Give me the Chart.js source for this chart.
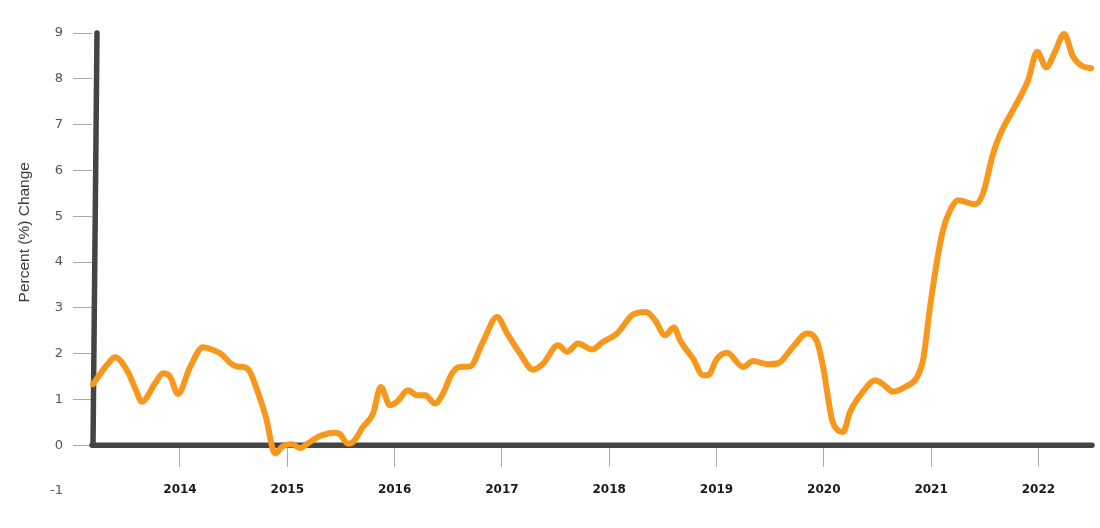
<!DOCTYPE html>
<html><head><meta charset="utf-8">
<script src="https://cdn.jsdelivr.net/npm/chart.js@4"></script>
<style>html,body{margin:0;padding:0;background:#fff}#wrap{width:1100px;height:528px}</style>
</head><body><div id="wrap"><canvas id="c" width="1100" height="528"></canvas></div>
<script>
// Decimal-year positions of the readings and the percent change at each
const dates = [2013.189,2013.254,2013.329,2013.394,2013.515,2013.581,2013.646,2013.767,2013.842,2013.907,
  2013.981,2014.093,2014.214,2014.308,2014.391,2014.466,2014.531,2014.606,2014.652,2014.727,
  2014.802,2014.885,2014.960,2015.044,2015.118,2015.212,2015.305,2015.445,2015.491,2015.566,
  2015.612,2015.706,2015.799,2015.871,2015.957,2016.023,2016.125,2016.209,2016.284,2016.377,
  2016.451,2016.535,2016.610,2016.703,2016.824,2016.955,2017.048,2017.169,2017.290,2017.383,
  2017.523,2017.607,2017.710,2017.840,2017.943,2018.073,2018.148,2018.213,2018.343,2018.427,
  2018.520,2018.604,2018.660,2018.781,2018.875,2018.921,2019.005,2019.098,2019.247,2019.341,
  2019.471,2019.574,2019.714,2019.844,2019.937,2019.993,2020.077,2020.124,2020.180,2020.245,
  2020.366,2020.478,2020.552,2020.646,2020.757,2020.869,2020.925,2020.990,2021.056,2021.111,
  2021.177,2021.251,2021.410,2021.484,2021.578,2021.662,2021.764,2021.904,2021.988,2022.072,
  2022.155,2022.239,2022.323,2022.407,2022.491];
const values = [1.33,1.55,1.78,1.92,1.6,1.25,0.95,1.35,1.57,1.5,
  1.12,1.7,2.14,2.08,1.98,1.8,1.72,1.7,1.6,1.15,
  0.6,-0.18,-0.02,0.02,-0.06,0.07,0.2,0.27,0.24,0.03,
  0.07,0.4,0.69,1.27,0.87,0.95,1.2,1.09,1.09,0.91,
  1.13,1.57,1.71,1.72,2.26,2.8,2.44,2.0,1.65,1.78,
  2.18,2.04,2.22,2.09,2.26,2.44,2.66,2.84,2.91,2.73,
  2.4,2.57,2.29,1.89,1.53,1.53,1.89,2.02,1.71,1.84,
  1.77,1.79,2.15,2.44,2.26,1.71,0.55,0.34,0.29,0.73,
  1.17,1.42,1.33,1.17,1.27,1.49,1.86,3.02,4.04,4.7,
  5.13,5.35,5.26,5.5,6.37,6.88,7.32,7.97,8.59,8.25,
  8.59,8.98,8.48,8.28,8.23];
const yearTicks = [2014,2015,2016,2017,2018,2019,2020,2021,2022];
const yTitle = 'Percent (%) Change';

const axesPlugin = {
  id: 'axesLines',
  beforeDatasetsDraw(chart) {
    const {ctx, chartArea: a, scales: {x, y}} = chart;
    const y0 = y.getPixelForValue(0), yTop = y.getPixelForValue(9);
    ctx.save();
    ctx.strokeStyle = '#444';
    ctx.lineWidth = 5.5;
    ctx.lineCap = 'round';
    ctx.beginPath(); ctx.moveTo(a.left + 1, y0); ctx.lineTo(a.left + 5, yTop); ctx.stroke();
    ctx.beginPath(); ctx.moveTo(a.left, y0); ctx.lineTo(a.right + 1, y0); ctx.stroke();
    ctx.restore();
  },
  afterDraw(chart) {
    const {ctx, scales: {y}} = chart;
    ctx.save();
    ctx.translate(25, y.getPixelForValue(4.65));
    ctx.rotate(-Math.PI / 2);
    ctx.font = '15.5px "Liberation Sans", Arial, sans-serif';
    ctx.fillStyle = '#3a3a3a';
    ctx.textAlign = 'center';
    ctx.textBaseline = 'middle';
    ctx.fillText(yTitle, 0, 0);
    ctx.restore();
  }
};

new Chart(document.getElementById('c'), {
  type: 'line',
  data: {
    datasets: [{
      data: dates.map((d, i) => ({x: d, y: values[i]})),
      borderColor: '#F7981D',
      borderWidth: 6,
      pointRadius: 0,
      cubicInterpolationMode: 'monotone',
      borderJoinStyle: 'round',
      borderCapStyle: 'round',
      fill: false
    }]
  },
  options: {
    responsive: false,
    animation: false,
    clip: false,
    layout: {padding: {top: 33, bottom: 37, right: 9, left: 0}},
    plugins: {legend: {display: false}, tooltip: {enabled: false}},
    scales: {
      x: {
        type: 'linear',
        position: {y: 0},
        min: 2013.18,
        max: 2022.49,
        afterBuildTicks: s => { s.ticks = yearTicks.map(v => ({value: v})); },
        ticks: {
          callback: v => String(v),
          font: {family: '"DejaVu Sans"', size: 12, weight: 'bold'},
          color: '#1a1a1a',
          padding: 15,
          maxRotation: 0,
          autoSkip: false
        },
        grid: {drawOnChartArea: false, drawTicks: true, tickLength: 22, color: '#aaa', lineWidth: 1},
        border: {display: false}
      },
      y: {
        min: -1,
        max: 9,
        ticks: {stepSize: 1, color: '#555', font: {family: '"DejaVu Sans"', size: 13}, padding: 10},
        grid: {
          drawOnChartArea: false, drawTicks: true, tickLength: 19, lineWidth: 1,
          color: c => (c.tick && c.tick.value === -1) ? 'rgba(0,0,0,0)' : '#aaa'
        },
        border: {display: false},
        title: {display: false},
        afterFit: s => { s.width = 92; }
      }
    }
  },
  plugins: [axesPlugin]
});
</script>
</body></html>
